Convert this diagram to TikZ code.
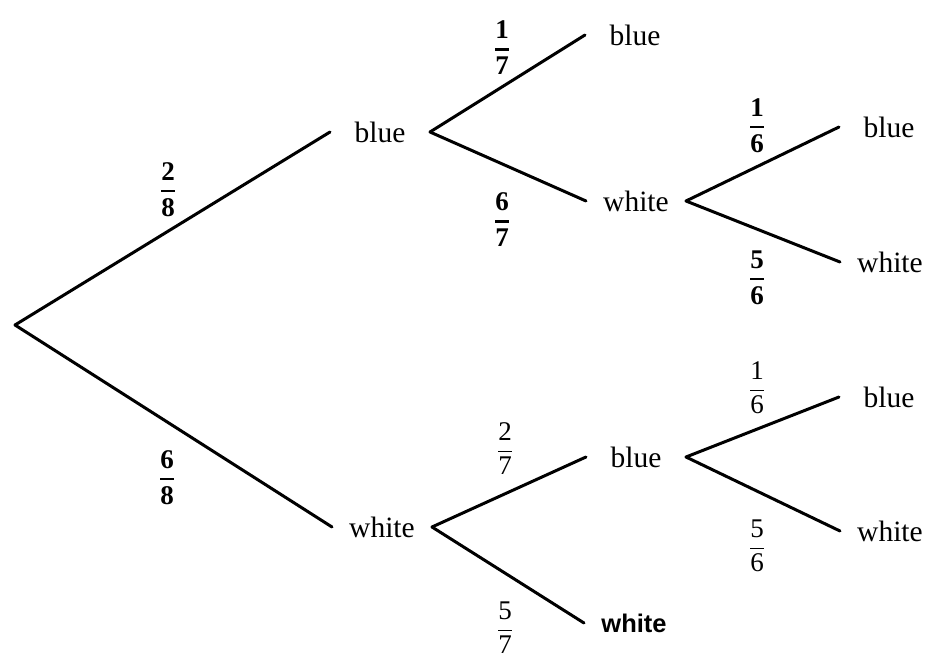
\documentclass[tikz,border=0pt]{standalone}
\usepackage{amsmath}
\usepackage{fontspec}
\setmainfont{Liberation Serif}
\newfontfamily\boldsans{Liberation Sans}
\newcommand\bfr[2]{$\genfrac{}{}{2.2pt}{0}{\text{\bfseries #1}}{\text{\bfseries #2}}$}
\newcommand\lfr[2]{$\genfrac{}{}{0.9pt}{0}{\text{#1}}{\text{#2}}$}
\begin{document}
\begin{tikzpicture}[x=1pt,y=-1pt,
  word/.style={inner sep=0pt, outer sep=0pt, minimum width=100pt, minimum height=30pt,
    font=\fontsize{29.5}{32}\selectfont},
  branch/.style={line width=3pt, line cap=round},
  prob/.style={inner sep=0pt, font=\fontsize{27}{30}\selectfont}]
\useasboundingbox (0,0) rectangle (932,658);
\coordinate (root) at (15,325);
\node[word] (b) at (380,132) {blue};
\node[word] (w) at (382,527) {white};
\node[word] (bb) at (635,35) {blue};
\node[word] (bw) at (636,201) {white};
\node[word] (bwb) at (889,127) {blue};
\node[word] (bww) at (890,262) {white};
\node[word] (wb) at (636,457) {blue};
\node[word,font=\boldsans\bfseries\fontsize{25.5}{28}\selectfont] (ww) at (634,623) {white};
\node[word] (wbb) at (889,397) {blue};
\node[word] (wbw) at (890,531) {white};
\draw[branch] (root) -- (b.west);
\draw[branch] (root) -- (w.west);
\draw[branch] (b.east) -- (bb.west);
\draw[branch] (b.east) -- (bw.west);
\draw[branch] (bw.east) -- (bwb.west);
\draw[branch] (bw.east) -- (bww.west);
\draw[branch] (w.east) -- (wb.west);
\draw[branch] (w.east) -- (ww.west);
\draw[branch] (wb.east) -- (wbb.west);
\draw[branch] (wb.east) -- (wbw.west);
\node[prob] (p1) at (168,190) {\bfr{2}{8}};
\node[prob] (p2) at (167,478) {\bfr{6}{8}};
\node[prob] (p3) at (502,48) {\bfr{1}{7}};
\node[prob] (p4) at (502,220) {\bfr{6}{7}};
\node[prob] (p5) at (757,126) {\bfr{1}{6}};
\node[prob] (p6) at (757,278) {\bfr{5}{6}};
\node[prob] (p7) at (505,449) {\lfr{2}{7}};
\node[prob] (p8) at (505,628) {\lfr{5}{7}};
\node[prob] (p9) at (757,388) {\lfr{1}{6}};
\node[prob] (p10) at (757,546) {\lfr{5}{6}};
\end{tikzpicture}
\end{document}
